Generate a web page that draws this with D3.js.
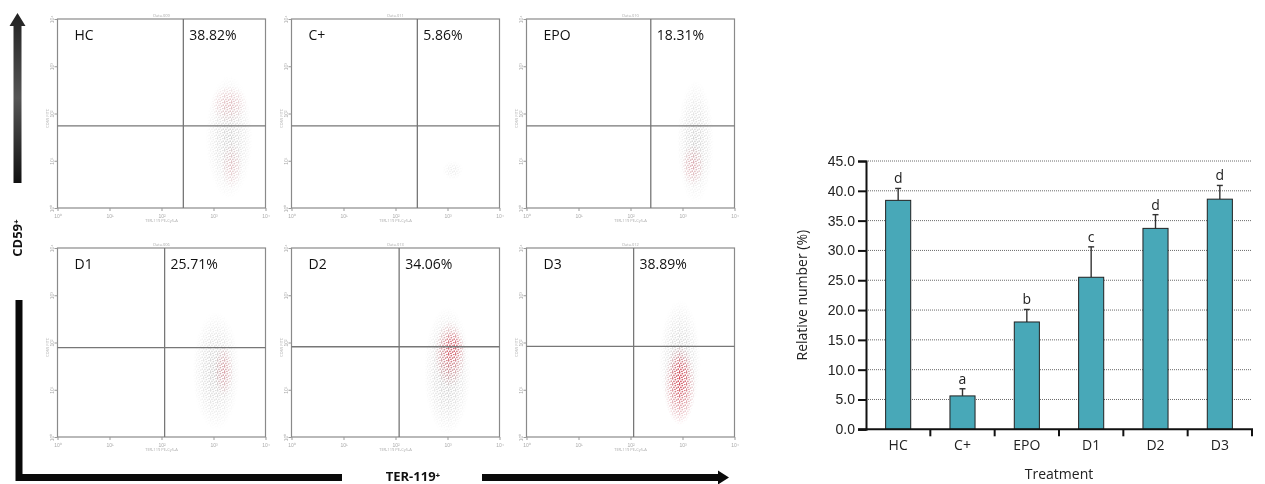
<!DOCTYPE html>
<html>
<head>
<meta charset="utf-8">
<script src="https://cdn.jsdelivr.net/npm/d3@7"></script>
<style>
  body { margin: 0; background: #fff; }
  svg { display: block; font-family: "Open Sans", "Noto Sans", sans-serif; }
</style>
</head>
<body>
<svg id="fig" width="1265" height="484"></svg>
<script>
// ---- data ----
const groups = ['HC', 'C+', 'EPO', 'D1', 'D2', 'D3'];
const percents = ['38.82%', '5.86%', '18.31%', '25.71%', '34.06%', '38.89%'];
const dataTitles = ['Data.009', 'Data.011', 'Data.010', 'Data.006', 'Data.013', 'Data.012'];
// quadrant gates, in log10 units of the cytometer axes
const gateX = [2.42, 2.42, 2.39, 2.06, 2.07, 2.06];
const gateY = [1.74, 1.74, 1.74, 1.89, 1.91, 1.92];
// event clouds: panel index, centre x / y (log10), half-width / half-height (decades), tone, opacity
const cloudPanel = [0, 0, 0, 1, 2, 2, 3, 3, 4, 4, 4, 5, 5, 5];
const cloudX     = [3.3, 3.3, 3.35, 3.1, 3.25, 3.2, 3.05, 3.2, 3.0, 3.05, 3.1, 2.95, 2.95, 2.95];
const cloudY     = [1.5, 2.2, 0.9, 0.8, 1.4, 0.9, 1.4, 1.4, 1.4, 1.75, 1.9, 1.6, 1.1, 1.3];
const cloudRx    = [0.45, 0.35, 0.2, 0.2, 0.35, 0.22, 0.45, 0.18, 0.45, 0.3, 0.2, 0.4, 0.3, 0.18];
const cloudRy    = [1.3, 0.4, 0.5, 0.2, 1.3, 0.45, 1.25, 0.55, 1.35, 0.7, 0.35, 1.3, 0.85, 0.5];
const cloudTone  = ['g', 'p', 'p', 'g', 'g', 'p', 'g', 'p', 'g', 'p', 'p', 'g', 'p', 'p'];
const cloudAlpha = [0.45, 0.35, 0.3, 0.2, 0.45, 0.45, 0.5, 0.5, 0.55, 0.85, 0.85, 0.5, 1, 1];
const logTicks = [0, 1, 2, 3, 4];

const means = [38.4, 5.6, 18.0, 25.5, 33.7, 38.6];
const errors = [2.0, 1.2, 2.1, 5.1, 2.3, 2.3];
const letters = ['d', 'a', 'b', 'c', 'd', 'd'];
const yTicks = [0, 5, 10, 15, 20, 25, 30, 35, 40, 45];

const svg = d3.select('#fig');
const defs = svg.append('defs');

[['g', '#8e8e8e'], ['p', '#d2505e']].forEach(([id, col]) => {
  const rg = defs.append('radialGradient').attr('id', 'cl-' + id);
  rg.append('stop').attr('offset', '0%').attr('stop-color', col).attr('stop-opacity', 0.9);
  rg.append('stop').attr('offset', '55%').attr('stop-color', col).attr('stop-opacity', 0.45);
  rg.append('stop').attr('offset', '100%').attr('stop-color', col).attr('stop-opacity', 0);
});
// grain texture so the clouds read as scattered events
const grain = defs.append('pattern').attr('id', 'grain').attr('patternUnits', 'userSpaceOnUse')
  .attr('width', 7).attr('height', 6);
[[0.6, 0.8], [3.4, 1.6], [5.8, 0.3], [1.9, 3.3], [4.6, 4.1], [0.4, 5.2], [6.3, 3.2], [2.9, 5.6]]
  .forEach(([px, py]) => grain.append('circle').attr('cx', px).attr('cy', py).attr('r', 0.9).attr('fill', '#fff'));
defs.append('mask').attr('id', 'grainMask').attr('maskUnits', 'userSpaceOnUse')
  .attr('x', 0).attr('y', 0).attr('width', 1265).attr('height', 484)
  .append('rect').attr('width', 1265).attr('height', 484).attr('fill', 'url(#grain)');

const arrowGrad = defs.append('linearGradient').attr('id', 'arrGrad')
  .attr('x1', 0).attr('y1', 0).attr('x2', 0).attr('y2', 1);
arrowGrad.append('stop').attr('offset', '0%').attr('stop-color', '#222');
arrowGrad.append('stop').attr('offset', '50%').attr('stop-color', '#555');
arrowGrad.append('stop').attr('offset', '100%').attr('stop-color', '#111');

// ---- flow cytometry panels ----
const colX = [57.5, 291.5, 526.5];
const rowY = [19, 248];
const boxW = 208, boxH = 189;

const cloudLayer = svg.append('g').attr('mask', 'url(#grainMask)');

groups.forEach((name, i) => {
  const x0 = colX[i % 3], y0 = rowY[Math.floor(i / 3)];
  const g = svg.append('g').attr('transform', `translate(${x0},${y0})`);
  const xs = d3.scaleLinear().domain([0, 4]).range([0, boxW]);
  const ys = d3.scaleLinear().domain([0, 4]).range([boxH, 0]);

  const cl = cloudLayer.append('g').attr('transform', `translate(${x0},${y0})`);
  cloudPanel.forEach((p, k) => {
    if (p !== i) return;
    cl.append('ellipse')
      .attr('cx', xs(cloudX[k])).attr('cy', ys(cloudY[k]))
      .attr('rx', xs(cloudRx[k]) - xs(0)).attr('ry', ys(0) - ys(cloudRy[k]))
      .attr('fill', `url(#cl-${cloudTone[k]})`)
      .attr('opacity', cloudAlpha[k]);
  });

  g.append('rect').attr('width', boxW).attr('height', boxH)
    .attr('fill', 'none').attr('stroke', '#8a8a8a').attr('stroke-width', 1.2);
  g.append('line').attr('x1', 0).attr('x2', boxW)
    .attr('y1', ys(gateY[i])).attr('y2', ys(gateY[i]))
    .attr('stroke', '#777').attr('stroke-width', 1.3);
  g.append('line').attr('y1', 0).attr('y2', boxH)
    .attr('x1', xs(gateX[i])).attr('x2', xs(gateX[i]))
    .attr('stroke', '#777').attr('stroke-width', 1.3);

  const ax = g.append('g').attr('transform', `translate(0,${boxH})`)
    .call(d3.axisBottom(xs).tickValues(logTicks).tickSize(3).tickFormat(d => '10' + '⁰¹²³⁴'[d]));
  const ay = g.append('g')
    .call(d3.axisLeft(ys).tickValues(logTicks).tickSize(3).tickFormat(d => '10' + '⁰¹²³⁴'[d]));
  [ax, ay].forEach(a => {
    a.select('.domain').remove();
    a.selectAll('line').attr('stroke', '#999');
    a.selectAll('text').attr('fill', '#aaa').style('font-size', '5px');
  });
  ay.selectAll('text').attr('transform', 'rotate(-90)').attr('x', 0).attr('dx', 0).attr('dy', -4)
    .attr('text-anchor', 'middle');

  g.append('text').attr('x', boxW / 2).attr('y', -2).attr('text-anchor', 'middle')
    .attr('fill', '#aaa').style('font-size', '4px').text(dataTitles[i]);
  g.append('text').attr('x', boxW / 2).attr('y', boxH + 14).attr('text-anchor', 'middle')
    .attr('fill', '#aaa').style('font-size', '4px').text('TER-119 PE-Cy5-A');
  g.append('text').attr('transform', `translate(-9,${ys(1.9)}) rotate(-90)`).attr('text-anchor', 'middle')
    .attr('fill', '#aaa').style('font-size', '4px').text('CD59 FITC');

  g.append('text').attr('x', 17).attr('y', 21).attr('fill', '#111')
    .style('font-size', '14px').text(name);
  g.append('text').attr('x', xs(gateX[i]) + 6).attr('y', 21).attr('fill', '#111')
    .style('font-size', '14px').text(percents[i]);
});

// axis arrows and labels of the dot plots
svg.append('path')
  .attr('d', 'M13.5,183 L13.5,26 L9.5,26 L17.5,13 L25.5,26 L21.5,26 L21.5,183 Z')
  .attr('fill', 'url(#arrGrad)');
svg.append('text').attr('transform', 'translate(22,238) rotate(-90)')
  .attr('text-anchor', 'middle').attr('font-weight', 'bold').attr('fill', '#111')
  .style('font-size', '13px').text('CD59⁺');
svg.append('path')
  .attr('d', 'M15.5,300 L22.5,300 L22.5,474 L342,474 L342,481 L15.5,481 Z')
  .attr('fill', '#0a0a0a');
svg.append('text').attr('x', 413).attr('y', 481).attr('text-anchor', 'middle')
  .attr('font-weight', 'bold').attr('fill', '#111').style('font-size', '13px').text('TER-119⁺');
svg.append('path')
  .attr('d', 'M482,474 L718,474 L718,470.5 L729,477.5 L718,484.5 L718,481 L482,481 Z')
  .attr('fill', '#0a0a0a');

// ---- bar chart ----
const x = d3.scaleBand().domain(groups).range([866, 1252]).padding(0);
const y = d3.scaleLinear().domain([0, 45]).range([429.3, 161]);
const barW = x.bandwidth() * 0.39;

svg.append('g').selectAll('line').data(yTicks.slice(1)).join('line')
  .attr('x1', 866).attr('x2', 1252).attr('y1', d => y(d)).attr('y2', d => y(d))
  .attr('stroke', '#444').attr('stroke-width', 0.8).attr('stroke-dasharray', '1,1');

// error bars
const eb = svg.append('g').attr('stroke', '#333').attr('stroke-width', 1.4);
eb.selectAll('.v').data(groups).join('line')
  .attr('x1', d => x(d) + x.bandwidth() / 2).attr('x2', d => x(d) + x.bandwidth() / 2)
  .attr('y1', (d, i) => y(means[i])).attr('y2', (d, i) => y(means[i] + errors[i]));
eb.selectAll('.h').data(groups).join('line')
  .attr('x1', d => x(d) + x.bandwidth() / 2 - 3).attr('x2', d => x(d) + x.bandwidth() / 2 + 3)
  .attr('y1', (d, i) => y(means[i] + errors[i])).attr('y2', (d, i) => y(means[i] + errors[i]));

svg.append('g').selectAll('rect').data(groups).join('rect')
  .attr('x', d => x(d) + (x.bandwidth() - barW) / 2)
  .attr('width', barW)
  .attr('y', (d, i) => y(means[i]))
  .attr('height', (d, i) => y(0) - y(means[i]))
  .attr('fill', '#48a8b8').attr('stroke', '#222').attr('stroke-width', 1);

svg.append('g').selectAll('text').data(groups).join('text')
  .attr('x', d => x(d) + x.bandwidth() / 2)
  .attr('y', (d, i) => y(means[i] + errors[i]) - 5)
  .attr('text-anchor', 'middle').attr('fill', '#222').style('font-size', '14px')
  .text((d, i) => letters[i]);

const yAxis = svg.append('g').attr('transform', 'translate(866,0)')
  .call(d3.axisLeft(y).tickValues(yTicks).tickFormat(d3.format('.1f')).tickSize(8).tickPadding(3));
yAxis.select('.domain').attr('stroke', '#111').attr('stroke-width', 2);
yAxis.selectAll('line').attr('stroke', '#111').attr('stroke-width', 2);
yAxis.selectAll('text').attr('fill', '#222').style('font-size', '14px');

const xAxis = svg.append('g').attr('transform', `translate(0,${y(0)})`);
xAxis.append('line').attr('x1', 858).attr('x2', 1253).attr('stroke', '#111').attr('stroke-width', 2);
xAxis.selectAll('.tk').data(groups.slice(1).concat(['end'])).join('line')
  .attr('x1', (d, i) => i < 5 ? x(d) : x.range()[1]).attr('x2', (d, i) => i < 5 ? x(d) : x.range()[1])
  .attr('y1', 0).attr('y2', 7).attr('stroke', '#111').attr('stroke-width', 2);
xAxis.selectAll('text').data(groups).join('text')
  .attr('x', d => x(d) + x.bandwidth() / 2).attr('y', 21)
  .attr('text-anchor', 'middle').attr('fill', '#222').style('font-size', '14px').text(d => d);

svg.append('text').attr('x', 1059).attr('y', 479).attr('text-anchor', 'middle')
  .attr('fill', '#222').style('font-size', '14px').text('Treatment');
svg.append('text').attr('transform', `translate(807,${(y(0) + y(45)) / 2}) rotate(-90)`)
  .attr('text-anchor', 'middle').attr('fill', '#222').style('font-size', '14px').text('Relative number (%)');
</script>
</body>
</html>
